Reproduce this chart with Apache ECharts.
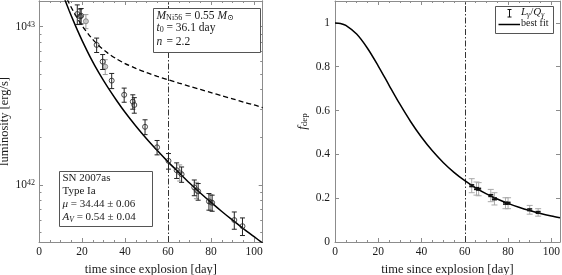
<!DOCTYPE html>
<html><head><meta charset="utf-8">
<script src="https://cdn.jsdelivr.net/npm/echarts@6/dist/echarts.min.js"></script>
<style>html,body{margin:0;padding:0;background:#fff}#c{width:562px;height:275px}</style>
</head><body><div id="c"></div>
<script>
const FONT = '"Liberation Serif","DejaVu Serif",serif';
const TXT = '#1a1a1a';
const AX = '#8c8c8c';

// ---------- Left panel: luminosity (units of 1e42 erg/s) ----------
const obsDay  = [17.8,19.1,19.6,26.8,29.6,33.8,39.6,43.6,44.3,49.3,54.9,60.2,64.0,66.3,72.2,74.0,79.0,80.5,90.8,94.6];
const obsLum  = [12.0,11.6,11.7,7.66,6.01,4.56,3.71,3.36,3.20,2.33,1.73,1.42,1.24,1.17,0.966,0.912,0.789,0.773,0.601,0.550];
const obsErr  = [1.7,1.3,1.3,0.8,0.65,0.5,0.38,0.35,0.36,0.25,0.18,0.16,0.14,0.13,0.11,0.11,0.095,0.09,0.075,0.07];
const grayDay = [21.8,30.8,65.4,73.2,79.8];
const grayLum = [10.8,5.58,1.20,0.93,0.78];
const grayErr = [1.1,0.6,0.14,0.11,0.09];
const curveDay = [10,12,14,16,18,20,24,28,32,36,40,45,50,55,60,65,70,75,80,85,90,95,100,104];
const fitLum   = [17.48,14.82,12.64,10.86,9.39,8.19,6.35,5.06,4.13,3.43,2.88,2.36,1.96,1.65,1.40,1.20,1.03,0.891,0.777,0.681,0.600,0.531,0.472,0.430];
const fullLum  = [18.42,15.99,14.04,12.47,11.19,10.15,8.60,7.54,6.80,6.26,5.84,5.45,5.12,4.85,4.62,4.40,4.20,4.01,3.83,3.66,3.50,3.34,3.20,3.08];
const lumRange = [0.437, 14.5];
const lumMajor = [1, 10];
const lumMinor = [0.5,0.6,0.7,0.8,0.9,2,3,4,5,6,7,8,9];

// ---------- Right panel: deposition fraction ----------
const fdepDay  = [63.2,65.4,66.4,72.0,73.7,78.8,80.0,90.0,93.9];
const fdepVal  = [0.257,0.244,0.241,0.212,0.197,0.177,0.177,0.147,0.135];
const fdepErr  = [0.032,0.03,0.03,0.028,0.028,0.025,0.025,0.02,0.017];
const fdepStat = [0.004,0.004,0.004,0.004,0.004,0.004,0.004,0.004,0.004];
const fdepFitDay = [0,2.5,5,10,15,20,25,30,35,40,45,50,55,60,65,70,75,80,85,90,95,100,104];
const fdepFit    = [1,0.9974,0.9884,0.9489,0.8843,0.8031,0.7153,0.6289,0.5490,0.4778,0.4160,0.3631,0.3181,0.2799,0.2475,0.2199,0.1963,0.1761,0.1586,0.1435,0.1304,0.1189,0.1107];
const fdepTickLabels = [0,0.2,0.4,0.6,0.8,1];

const xTickLabels = [0,20,40,60,80,100];
const xRange = [0, 104];
const markDay = 60;

const lg = v => Math.log10(v) + 42;

function errBar(color, cap, lw) {
  return function (params, api) {
    const x = api.value(0);
    const a = api.coord([x, api.value(1)]);
    const b = api.coord([x, api.value(2)]);
    const st = {stroke: color, lineWidth: lw};
    return {type: 'group', children: [
      {type: 'line', shape: {x1: a[0], y1: a[1], x2: b[0], y2: b[1]}, style: st},
      {type: 'line', shape: {x1: a[0]-cap, y1: a[1], x2: a[0]+cap, y2: a[1]}, style: st},
      {type: 'line', shape: {x1: b[0]-cap, y1: b[1], x2: b[0]+cap, y2: b[1]}, style: st}
    ]};
  };
}

const axLine = {show: true, onZero: false, lineStyle: {color: AX, width: 1}};
const lbl = {color: TXT, fontFamily: FONT, fontSize: 11.5};

function xAx(grid, pos, withLabels) {
  const o = {
    type: 'value', gridIndex: grid, position: pos, min: xRange[0], max: xRange[1], interval: 20,
    axisLine: axLine, splitLine: {show: false},
    axisTick: {show: true, inside: true, length: 4, lineStyle: {color: AX}},
    minorTick: {show: true, splitNumber: 4, length: 2, lineStyle: {color: AX}},
    axisLabel: withLabels ? Object.assign({margin: 4, customValues: xTickLabels}, lbl) : {show: false}
  };
  if (withLabels) {
    o.name = 'time since explosion [day]';
    o.nameLocation = 'middle';
    o.nameGap = 19;
    o.nameTextStyle = {color: TXT, fontFamily: FONT, fontSize: 12.5};
  }
  return o;
}

const lumMin = lg(lumRange[0]), lumMax = lg(lumRange[1]);
function yLum(pos, ticks, len, withLabels) {
  const o = {
    type: 'value', gridIndex: 0, position: pos, min: lumMin, max: lumMax,
    axisLine: axLine, splitLine: {show: false},
    axisTick: {show: true, inside: true, length: len, lineStyle: {color: AX}, customValues: ticks},
    axisLabel: {show: false}
  };
  if (withLabels) {
    o.axisLabel = {show: true, margin: 4, customValues: lumMajor.map(lg),
      formatter: v => '{b|10}{s|' + Math.round(v) + '}',
      rich: {
        b: {color: TXT, fontFamily: FONT, fontSize: 11.5, lineHeight: 12, padding: [2,0,0,0], verticalAlign: 'bottom'},
        s: {color: TXT, fontFamily: FONT, fontSize: 8, lineHeight: 8, verticalAlign: 'top'}
      }};
    o.name = 'luminosity [erg/s]';
    o.nameLocation = 'middle';
    o.nameRotate = 90;
    o.nameGap = 24;
    o.nameTextStyle = {color: TXT, fontFamily: FONT, fontSize: 12.5};
  }
  return o;
}
function yF(pos, withLabels) {
  const o = {
    type: 'value', gridIndex: 1, position: pos, min: 0, max: 1.1, interval: 0.2,
    axisLine: axLine, splitLine: {show: false},
    axisTick: {show: true, inside: true, length: 4, lineStyle: {color: AX}, customValues: fdepTickLabels},
    axisLabel: withLabels ? Object.assign({margin: 5, customValues: fdepTickLabels}, lbl) : {show: false}
  };
  if (withLabels) {
    o.name = '{i|f}{s|dep}';
    o.nameLocation = 'middle';
    o.nameRotate = 90;
    o.nameGap = 25;
    o.nameTextStyle = {rich: {
      i: {color: TXT, fontFamily: FONT, fontSize: 13, fontStyle: 'italic', lineHeight: 13, padding: [0,0,3,0], verticalAlign: 'top'},
      s: {color: TXT, fontFamily: FONT, fontSize: 9, lineHeight: 9, verticalAlign: 'bottom'}
    }};
  }
  return o;
}

const markV = {silent: true, symbol: ['none','none'], label: {show: false},
  lineStyle: {color: '#333', type: [6,2,1.5,2], width: 1}, data: [{xAxis: markDay}]};

// rich styles for graphic texts
function richSet(fs) {
  return {
    n: {fontFamily: FONT, fontSize: fs, fill: TXT, lineHeight: 12, padding: [0,0,3,0], verticalAlign: 'top'},
    i: {fontFamily: FONT, fontSize: fs, fontStyle: 'italic', fill: TXT, lineHeight: 12, padding: [0,0,3,0], verticalAlign: 'top'},
    sub: {fontFamily: FONT, fontSize: fs*0.7, fill: TXT, lineHeight: 8, verticalAlign: 'bottom'},
    isub: {fontFamily: FONT, fontSize: fs*0.7, fontStyle: 'italic', fill: TXT, lineHeight: 8, verticalAlign: 'bottom'}
  };
}
function mt(x, y, text, fs) {
  fs = fs || 11;
  return {type: 'text', x: x, y: y + 1.5, z: 101,
    style: {text: text, rich: richSet(fs), fill: TXT, fontFamily: FONT, fontSize: fs, verticalAlign: 'middle', align: 'left'}};
}

const option = {
  animation: false,
  backgroundColor: '#fff',
  grid: [
    {left: 39, top: 1, width: 223.7, height: 241, containLabel: false, outerBoundsMode: 'none'},
    {left: 335, top: 1, width: 225, height: 241, containLabel: false, outerBoundsMode: 'none'}
  ],
  xAxis: [xAx(0,'bottom',true), xAx(0,'top',false), xAx(1,'bottom',true), xAx(1,'top',false)],
  yAxis: [
    yLum('left', lumMajor.map(lg), 4, true),
    yLum('right', lumMajor.map(lg), 4, false),
    yLum('left', lumMinor.map(lg), 2.5, false),
    yLum('right', lumMinor.map(lg), 2.5, false),
    yF('left', true), yF('right', false)
  ],
  series: [
    {type: 'line', xAxisIndex: 0, yAxisIndex: 0, showSymbol: false, smooth: 0.3, z: 5,
      data: curveDay.map((d,k) => [d, lg(fitLum[k])]),
      lineStyle: {color: '#000', width: 1.5}, markLine: markV},
    {type: 'line', xAxisIndex: 0, yAxisIndex: 0, showSymbol: false, smooth: 0.3, z: 5,
      data: curveDay.map((d,k) => [d, lg(fullLum[k])]),
      lineStyle: {color: '#000', width: 1.3, type: [5,3]}},
    {type: 'custom', xAxisIndex: 0, yAxisIndex: 0, z: 3, renderItem: errBar('#9a9a9a', 2.5, 1),
      data: grayDay.map((d,k) => [d, lg(grayLum[k]-grayErr[k]), lg(grayLum[k]+grayErr[k])]), encode: {x: 0, y: [1,2]}},
    {type: 'scatter', xAxisIndex: 0, yAxisIndex: 0, symbol: 'circle', symbolSize: 5, z: 4,
      data: grayDay.map((d,k) => [d, lg(grayLum[k])]),
      itemStyle: {color: '#c4c4c4', borderColor: '#777', borderWidth: 1}},
    {type: 'custom', xAxisIndex: 0, yAxisIndex: 0, z: 6, renderItem: errBar('#222', 2.5, 1),
      data: obsDay.map((d,k) => [d, lg(obsLum[k]-obsErr[k]), lg(obsLum[k]+obsErr[k])]), encode: {x: 0, y: [1,2]}},
    {type: 'scatter', xAxisIndex: 0, yAxisIndex: 0, symbol: 'circle', symbolSize: 5, z: 7,
      data: obsDay.map((d,k) => [d, lg(obsLum[k])]),
      itemStyle: {color: 'rgba(255,255,255,0)', borderColor: '#222', borderWidth: 1}},
    {type: 'line', xAxisIndex: 2, yAxisIndex: 4, showSymbol: false, smooth: 0.3, z: 5,
      data: fdepFitDay.map((d,k) => [d, fdepFit[k]]),
      lineStyle: {color: '#000', width: 1.5}, markLine: markV},
    {type: 'custom', xAxisIndex: 2, yAxisIndex: 4, z: 6, renderItem: errBar('#aaaaaa', 3, 1),
      data: fdepDay.map((d,k) => [d, fdepVal[k]-fdepErr[k], fdepVal[k]+fdepErr[k]]), encode: {x: 0, y: [1,2]}},
    {type: 'custom', xAxisIndex: 2, yAxisIndex: 4, z: 7, renderItem: errBar('#111', 2.5, 1.5),
      data: fdepDay.map((d,k) => [d, fdepVal[k]-fdepStat[k], fdepVal[k]+fdepStat[k]]), encode: {x: 0, y: [1,2]}}
  ],
  graphic: [
    // parameter box
    {type: 'rect', z: 100, shape: {x: 153.5, y: 8.5, width: 107, height: 44}, style: {fill: '#fff', stroke: '#555', lineWidth: 1}},
    mt(156.5, 14.5, '{i|M}{sub|Ni56}{n| = 0.55 }{i|M}{sub|⊙}', 11.5),
    mt(156.5, 26.7, '{i|t}{sub|0}', 11.5),
    mt(166.5, 26.7, '{n|= 36.1 day}', 11.5),
    mt(156.5, 40.2, '{i|n}', 11.5),
    mt(166.5, 40.2, '{n|= 2.2}', 11.5),
    // SN box
    {type: 'rect', z: 100, shape: {x: 59.5, y: 171.5, width: 93, height: 55}, style: {fill: '#fff', stroke: '#555', lineWidth: 1}},
    mt(62.5, 176.7, '{n|SN 2007as}'),
    mt(62.5, 190, '{n|Type Ia}'),
    mt(62.5, 203.3, '{i|μ}{n| = 34.44 ± 0.06}'),
    mt(62.5, 216.2, '{i|A}{isub|V}{n| = 0.54 ± 0.04}'),
    // legend
    {type: 'rect', z: 100, shape: {x: 495.5, y: 6.5, width: 58, height: 27}, style: {fill: '#fff', stroke: '#555', lineWidth: 1}},
    {type: 'line', z: 101, shape: {x1: 509.5, y1: 9.5, x2: 509.5, y2: 17}, style: {stroke: '#111', lineWidth: 1}},
    {type: 'line', z: 101, shape: {x1: 507.5, y1: 9.5, x2: 511.5, y2: 9.5}, style: {stroke: '#111', lineWidth: 1}},
    {type: 'line', z: 101, shape: {x1: 507.5, y1: 17, x2: 511.5, y2: 17}, style: {stroke: '#111', lineWidth: 1}},
    mt(521, 11.5, '{i|L}{isub|γ}{n|/}{i|Q}{isub|γ}', 11),
    {type: 'line', z: 101, shape: {x1: 498.5, y1: 24.5, x2: 520, y2: 24.5}, style: {stroke: '#000', lineWidth: 1.5}},
    mt(521, 23.3, '{n|best fit}', 10)
  ]
};

const chart = echarts.init(document.getElementById('c'), null, {renderer: 'canvas'});
chart.setOption(option);
</script>
</body></html>
